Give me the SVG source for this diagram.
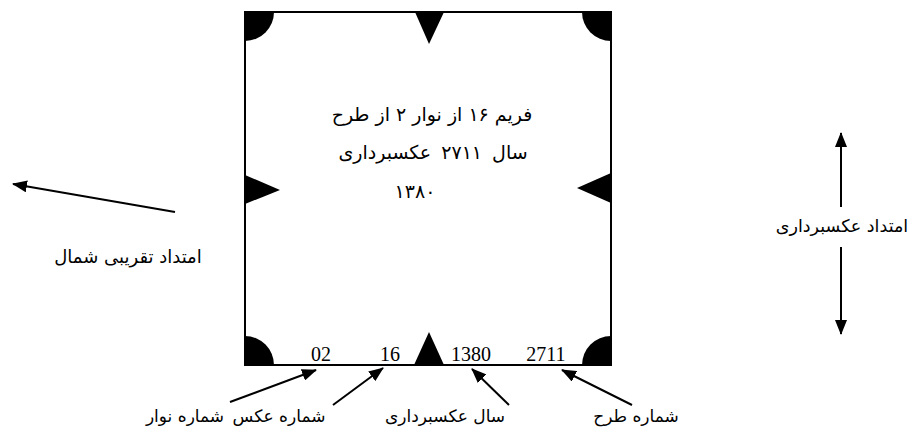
<svg xmlns="http://www.w3.org/2000/svg" width="921" height="432" viewBox="0 0 921 432">
<style>
.fa{font-family:"DejaVu Sans","Noto Sans",sans-serif;fill:#000}
.cap{font-size:19px;text-anchor:middle}
.num{font-family:"Liberation Serif",serif;font-size:20px;fill:#000;text-anchor:middle}
.ln{stroke:#000;stroke-width:2;fill:none}
.blk{fill:#000}
</style>
<defs>
<marker id="ah" markerUnits="userSpaceOnUse" markerWidth="15" markerHeight="12" refX="14" refY="6" orient="auto">
<path d="M0,0 L15,6 L0,12 z" fill="#000"/>
</marker>
</defs>
<g id="frame">
<rect x="245" y="12" width="366" height="353" fill="#fff" stroke="#000" stroke-width="2"/>
<path class="blk" d="M245,12 h29 a29,29 0 0 1 -29,29 z"/>
<path class="blk" d="M611,12 v29 a29,29 0 0 1 -29,-29 z"/>
<path class="blk" d="M245,365 v-29 a29,29 0 0 1 29,29 z"/>
<path class="blk" d="M611,365 h-29 a29,29 0 0 1 29,-29 z"/>
<polygon class="blk" points="415,12 444,12 429,44"/>
<polygon class="blk" points="414,365 444,365 429,332"/>
<polygon class="blk" points="245,175 245,204 280,190"/>
<polygon class="blk" points="611,173 611,203 577,188"/>
</g>
<g id="caption">
<text class="fa cap" x="432" y="121">فریم ۱۶ از نوار ۲ از طرح</text>
<text class="fa cap" x="433" y="159" word-spacing="4">سال ۲۷۱۱ عکسبرداری</text>
<text class="fa cap" x="415" y="198">۱۳۸۰</text>
</g>
<g id="numbers">
<text class="num" x="321" y="361">02</text>
<text class="num" x="390" y="361">16</text>
<text class="num" x="471" y="361">1380</text>
<text class="num" x="546" y="361">2711</text>
</g>
<g id="connectors">
<line class="ln" x1="175" y1="212" x2="13" y2="184" marker-end="url(#ah)"/>
<line class="ln" x1="841" y1="207" x2="841" y2="133" marker-end="url(#ah)"/>
<line class="ln" x1="841" y1="247" x2="841" y2="334" marker-end="url(#ah)"/>
<line class="ln" x1="230" y1="402" x2="316" y2="370" marker-end="url(#ah)"/>
<line class="ln" x1="333" y1="405" x2="383" y2="368" marker-end="url(#ah)"/>
<line class="ln" x1="509" y1="405" x2="472" y2="369" marker-end="url(#ah)"/>
<line class="ln" x1="632" y1="405" x2="562" y2="370" marker-end="url(#ah)"/>
</g>
<g id="label-north">
<text class="fa" x="128" y="263" font-size="18" text-anchor="middle">امتداد تقریبی شمال</text>
</g>
<g id="label-direction">
<text class="fa" x="842" y="232" font-size="17.5" text-anchor="middle">امتداد عکسبرداری</text>
</g>
<g id="label-strip">
<text class="fa" x="185" y="422" font-size="17" text-anchor="middle">شماره نوار</text>
</g>
<g id="label-photo">
<text class="fa" x="279" y="422" font-size="17" text-anchor="middle">شماره عکس</text>
</g>
<g id="label-year">
<text class="fa" x="445" y="422" font-size="17" text-anchor="middle">سال عکسبرداری</text>
</g>
<g id="label-project">
<text class="fa" x="636" y="422" font-size="17" text-anchor="middle">شماره طرح</text>
</g>
</svg>
